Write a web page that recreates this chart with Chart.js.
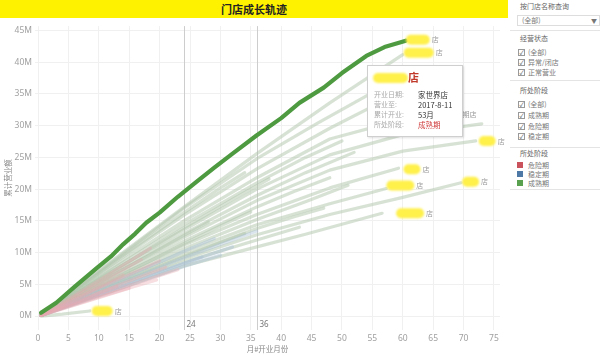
<!DOCTYPE html>
<html><head><meta charset="utf-8">
<script src="https://cdn.jsdelivr.net/npm/chart.js@4.4.1/dist/chart.umd.min.js"></script>
<style>
html,body{margin:0;padding:0;background:#fff;}
body{width:600px;height:357px;position:relative;overflow:hidden;font-family:"Noto Sans CJK SC","Noto Sans",sans-serif;}
#title{position:absolute;left:0;top:0;width:508px;height:18px;background:#fff200;text-align:center;line-height:18px;font-size:11px;font-weight:bold;color:#222;}
#wrap{position:absolute;left:0;top:18px;width:508px;height:339px;}
#panel{position:absolute;left:510px;top:0;width:90px;height:357px;font-size:7px;color:#777;}
#panel .t{position:absolute;left:10px;line-height:8px;white-space:nowrap;}
#panel .h{color:#666;}
#panel .sep{position:absolute;left:0;width:90px;border-top:1px solid #e4e4e4;}
#panel .cb{position:absolute;left:8px;width:5px;height:5px;border:1px solid #999;font-size:6px;line-height:5px;text-align:center;color:#444;}
#panel .sq{position:absolute;left:7px;width:6px;height:6px;}
#panel .lb{position:absolute;left:18px;line-height:8px;white-space:nowrap;}
#dd{position:absolute;left:7px;top:15px;width:81px;height:9px;border:1px solid #ddd;}
#tip{position:absolute;left:367px;top:65px;width:94px;height:70px;background:#fff;border:1px solid #cfcfcf;box-shadow:1px 1px 2px rgba(0,0,0,0.12);}
#tip .blob{position:absolute;left:5px;top:7px;width:35px;height:10px;background:#fff04a;border-radius:5px;filter:blur(1px);}
#tip .red{position:absolute;left:40px;top:4px;font-size:11px;font-weight:bold;color:#c0392b;line-height:14px;}
#tip .k{position:absolute;left:6px;font-size:7px;color:#aaa;line-height:9px;white-space:nowrap;}
#tip .v{position:absolute;left:50px;font-size:7.5px;color:#333;line-height:9px;white-space:nowrap;}
</style></head>
<body>
<div id="title">门店成长轨迹</div>
<div id="wrap"><canvas id="c" width="508" height="339"></canvas></div>

<div id="panel">
  <div class="t h" style="top:2px">按门店名称查询</div>
  <div id="dd"><span style="position:absolute;left:4px;top:0;line-height:9px;">(全部)</span><span style="position:absolute;right:2px;top:0;line-height:9px;font-size:6px;">▼</span></div>
  <div class="sep" style="top:30px"></div>
  <div class="t h" style="top:34px">经营状态</div>
  <div class="cb" style="top:49px">✓</div><div class="lb" style="top:48px">(全部)</div>
  <div class="cb" style="top:59px">✓</div><div class="lb" style="top:58px">异常/闭店</div>
  <div class="cb" style="top:69px">✓</div><div class="lb" style="top:68px">正常营业</div>
  <div class="sep" style="top:80px"></div>
  <div class="t h" style="top:86px">所处阶段</div>
  <div class="cb" style="top:101px">✓</div><div class="lb" style="top:100px">(全部)</div>
  <div class="cb" style="top:112px">✓</div><div class="lb" style="top:111px">成熟期</div>
  <div class="cb" style="top:123px">✓</div><div class="lb" style="top:122px">危险期</div>
  <div class="cb" style="top:133px">✓</div><div class="lb" style="top:132px">稳定期</div>
  <div class="sep" style="top:147px"></div>
  <div class="t h" style="top:149px">所处阶段</div>
  <div class="sq" style="top:162px;background:#c9525c"></div><div class="lb" style="top:161px">危险期</div>
  <div class="sq" style="top:171px;background:#4e79a7"></div><div class="lb" style="top:170px">稳定期</div>
  <div class="sq" style="top:180px;background:#59a14f"></div><div class="lb" style="top:179px">成熟期</div>
  <div class="sep" style="top:189px"></div>
</div>

<div id="tip">
  <div class="blob"></div><div class="red">店</div>
  <div class="k" style="top:24px">开业日期:</div><div class="v" style="top:24px">家世界店</div>
  <div class="k" style="top:34px">营业至:</div><div class="v" style="top:34px">2017-8-11</div>
  <div class="k" style="top:44px">累计开业:</div><div class="v" style="top:44px">53月</div>
  <div class="k" style="top:54px">所处阶段:</div><div class="v" style="top:54px;color:#d03a3a">成熟期</div>
</div>

<script>
// ---- data: [month, cumulative revenue in M] ----
const highlightStore = [[0.5,0.5],[3,2.1],[6,4.6],[9.6,7.5],[12,9.4],[14,11.3],[16,13.0],[17.8,14.7],[20,16.3],[23,18.8],[26,21.1],[29,23.4],[32,25.6],[36,28.5],[40,31.2],[43,33.6],[47,36.0],[50,38.3],[54,41.0],[57,42.4],[60.5,43.4]];

const g1  = [[0.5,0.3],[12,8.6],[24,17.2],[36,25.6],[48,33.6],[60,41.2]];
const g2  = [[0.5,0.2],[12,8.4],[24,17.0],[36,24.8],[46,30.4],[55,35.2]];
const g3  = [[0.5,0.2],[12,8.0],[24,15.9],[36,23.2],[48,29.6],[57,34.0]];
const g4  = [[0.5,0.2],[12,7.6],[24,15.0],[36,21.8],[48,27.9],[60,31.0],[68.5,31.6]];
const g5  = [[0.5,0.2],[12,7.0],[24,13.6],[36,20.0],[48,25.4],[60,28.6],[73,30.3]];
const g6  = [[0.5,0.2],[12,6.4],[24,12.4],[36,18.2],[48,23.0],[60,26.0],[72,27.6]];
const g7  = [[0.5,0.2],[12,5.8],[24,11.2],[36,16.0],[48,20.2],[59.3,23.3]];
const g8  = [[0.5,0.1],[12,4.7],[24,9.0],[36,12.8],[48,16.0],[60,18.7],[69.6,21.0]];
const g9  = [[0.5,0.2],[12,5.3],[24,10.1],[36,14.4],[48,17.7],[57.3,20.1]];
const g10 = [[0.5,0.1],[12,3.9],[24,7.9],[36,10.9],[44,12.9],[56.6,16.2]];
const g11 = [[0.5,0.2],[12,7.3],[24,14.4],[36,21.0],[44,25.0],[50,27.6]];
const g12 = [[0.5,0.2],[12,6.7],[24,13.0],[36,19.0],[44,22.6],[52,25.8]];
const g13 = [[0.5,0.2],[12,6.1],[24,11.8],[36,17.2],[42,19.6],[48,21.8]];
const g14 = [[0.5,0.1],[12,5.5],[24,10.6],[36,15.2],[44,18.0],[51,20.6]];
const g15 = [[0.5,0.1],[12,5.0],[24,9.6],[36,13.8],[42,15.6],[47,17.0]];
const g16 = [[0.5,0.1],[12,4.4],[24,8.5],[36,12.0],[43,14.0]];
const g17 = [[0.5,0.2],[12,6.9],[24,13.9],[32,18.4],[38,21.6]];
const g18 = [[0.5,0.1],[12,5.6],[24,11.4],[30,14.2],[35,16.4]];
const g19 = [[0.5,0.1],[12,4.8],[24,9.4],[30,11.6],[34,13.0]];
const g20 = [[0.5,0.2],[12,8.2],[24,16.3],[30,20.2],[34,22.6]];
const g21 = [[0.5,0.1],[12,6.3],[24,12.7],[28,14.8]];
const g22 = [[0.5,0.0],[4,0.3],[8.5,0.8]];
const matureLines = [g1,g2,g3,g4,g5,g6,g7,g8,g9,g10,g11,g12,g13,g14,g15,g16,g17,g18,g19,g20,g21,g22];

const stableLines = [
  [[0.5,0.1],[12,4.1],[24,8.3],[32,10.9]],
  [[0.5,0.1],[12,4.6],[24,9.2],[36,13.4]],
  [[0.5,0.1],[10,3.4],[20,7.0],[27,9.3]],
  [[0.5,0.1],[12,3.8],[24,7.8],[30,9.6]],
  [[0.5,0.1],[12,5.1],[24,10.2],[29,12.2]]
];

const dangerLines = [
  [[0.5,0.1],[10,5.6],[18.5,10.7]],
  [[0.5,0.1],[10,5.1],[17,8.9]],
  [[0.5,0.1],[10,4.4],[20,8.7]],
  [[0.5,0.1],[10,3.7],[21,7.7]],
  [[0.5,0.1],[10,3.0],[19.5,5.7]],
  [[0.5,0.1],[8,2.3],[15,4.4]],
  [[0.5,0.1],[10,3.3],[23,7.3]],
  [[0.5,0.1],[6,2.1],[13,4.7]],
  [[0.5,0.1],[8,3.6],[14,6.5]]
];

const refLines = [24, 36];
const endLabels = [
  {line: highlightStore, text: '店'},
  {line: g1, text: '店'},
  {line: g4, text: '期店'},
  {line: g6, text: '店'},
  {line: g7, text: '店'},
  {line: g8, text: '店'},
  {line: g9, text: '店'},
  {line: g10, text: '店'},
  {line: g22, text: '店'}
];
// label styling (blob offset / width in px), kept separate from data
const labelStyle = [
  {dx:0, w:24, dy:-1, blob:true},
  {dx:1, w:30, dy:-2, blob:true},
  {dx:6, w:0, dy:-1, blob:false},
  {dx:3, w:17, dy:0, blob:true},
  {dx:5, w:17, dy:1, blob:true},
  {dx:1, w:17, dy:-1, blob:true},
  {dx:0, w:28, dy:-3, blob:true},
  {dx:14, w:28, dy:0, blob:true},
  {dx:2, w:21, dy:0, blob:true}
];

const FONT = '"Noto Sans","Noto Sans CJK SC",sans-serif';
const toXY = pts => pts.map(p => ({x:p[0], y:p[1]}));

const datasets = [];
dangerLines.forEach(l => datasets.push({data: toXY(l), borderColor:'rgba(232,168,175,0.38)', borderWidth:3.2, order:1}));
stableLines.forEach(l => datasets.push({data: toXY(l), borderColor:'rgba(168,190,212,0.42)', borderWidth:3.2, order:1}));
matureLines.forEach(l => datasets.push({data: toXY(l), borderColor:'rgba(176,198,172,0.5)', borderWidth:3.2, order:1}));
datasets.push({data: toXY(highlightStore), borderColor:'#4e9a40', borderWidth:4.2, order:0});

const overlay = {
  id:'overlay',
  beforeDatasetsDraw(chart){
    const {ctx, chartArea:a, scales:{x}} = chart;
    ctx.save();
    ctx.strokeStyle = '#cdcdcd'; ctx.lineWidth = 1;
    ctx.fillStyle = '#777'; ctx.font = '8px ' + FONT; ctx.textBaseline = 'middle';
    refLines.forEach(v => {
      const px = Math.round(x.getPixelForValue(v)) + 0.5;
      ctx.beginPath(); ctx.moveTo(px, a.top); ctx.lineTo(px, a.bottom); ctx.stroke();
      ctx.fillText(String(v), px + 2, a.bottom - 5);
    });
    ctx.restore();
  },
  afterDatasetsDraw(chart){
    const {ctx, scales:{x, y}} = chart;
    endLabels.forEach((lab, i) => {
      const st = labelStyle[i];
      const last = lab.line[lab.line.length - 1];
      const px = x.getPixelForValue(last[0]) + st.dx;
      const py = y.getPixelForValue(last[1]) + st.dy;
      ctx.save();
      if (st.blob) {
        ctx.filter = 'blur(1.2px)';
        ctx.fillStyle = '#fff04a';
        ctx.beginPath();
        ctx.roundRect(px, py - 5, st.w, 10, 5);
        ctx.fill();
        ctx.filter = 'none';
      }
      ctx.fillStyle = '#9a9a9a';
      ctx.font = '7px "Noto Sans CJK SC",sans-serif';
      ctx.textBaseline = 'middle';
      ctx.fillText(lab.text, px + st.w + 2, py);
      ctx.restore();
    });
  }
};

new Chart(document.getElementById('c'), {
  type:'line',
  data:{datasets},
  plugins:[overlay],
  options:{
    responsive:false, animation:false,
    layout:{padding:{top:2,right:8,left:0,bottom:0}},
    plugins:{legend:{display:false}, tooltip:{enabled:false}},
    elements:{point:{radius:0, hoverRadius:0}, line:{tension:0, borderCapStyle:'round', borderJoinStyle:'round'}},
    scales:{
      x:{
        type:'linear', min:-0.5, max:76,
        ticks:{stepSize:5, includeBounds:false, color:'#a0a0a0', font:{size:8.5, family:FONT}, padding:3, maxRotation:0, autoSkip:false},
        grid:{color:'#f0f0f0', drawTicks:false},
        border:{display:false},
        title:{display:true, text:'月#开业月份', color:'#8a8a8a', font:{size:7.5, family:'"Noto Sans CJK SC",sans-serif'}, padding:{top:0,bottom:3}},
        afterBuildTicks: a => { a.ticks = a.ticks.filter(t => Math.abs(t.value % 5) < 1e-9); },
        afterFit: s => { s.height = 27; }
      },
      y:{
        min:-2.2, max:45.7,
        ticks:{stepSize:5, includeBounds:false, color:'#a0a0a0', font:{size:8.5, family:FONT}, padding:3, autoSkip:false, callback: v => v + 'M'},
        grid:{color:'#f0f0f0', drawTicks:false},
        border:{display:false},
        title:{display:true, text:'累计营业额', color:'#8a8a8a', font:{size:7.5, family:'"Noto Sans CJK SC",sans-serif'}, padding:{top:4,bottom:0}},
        afterBuildTicks: a => { a.ticks = a.ticks.filter(t => Math.abs(t.value % 5) < 1e-9); },
        afterFit: s => { s.width = 35; }
      }
    }
  }
});
</script>
</body></html>
